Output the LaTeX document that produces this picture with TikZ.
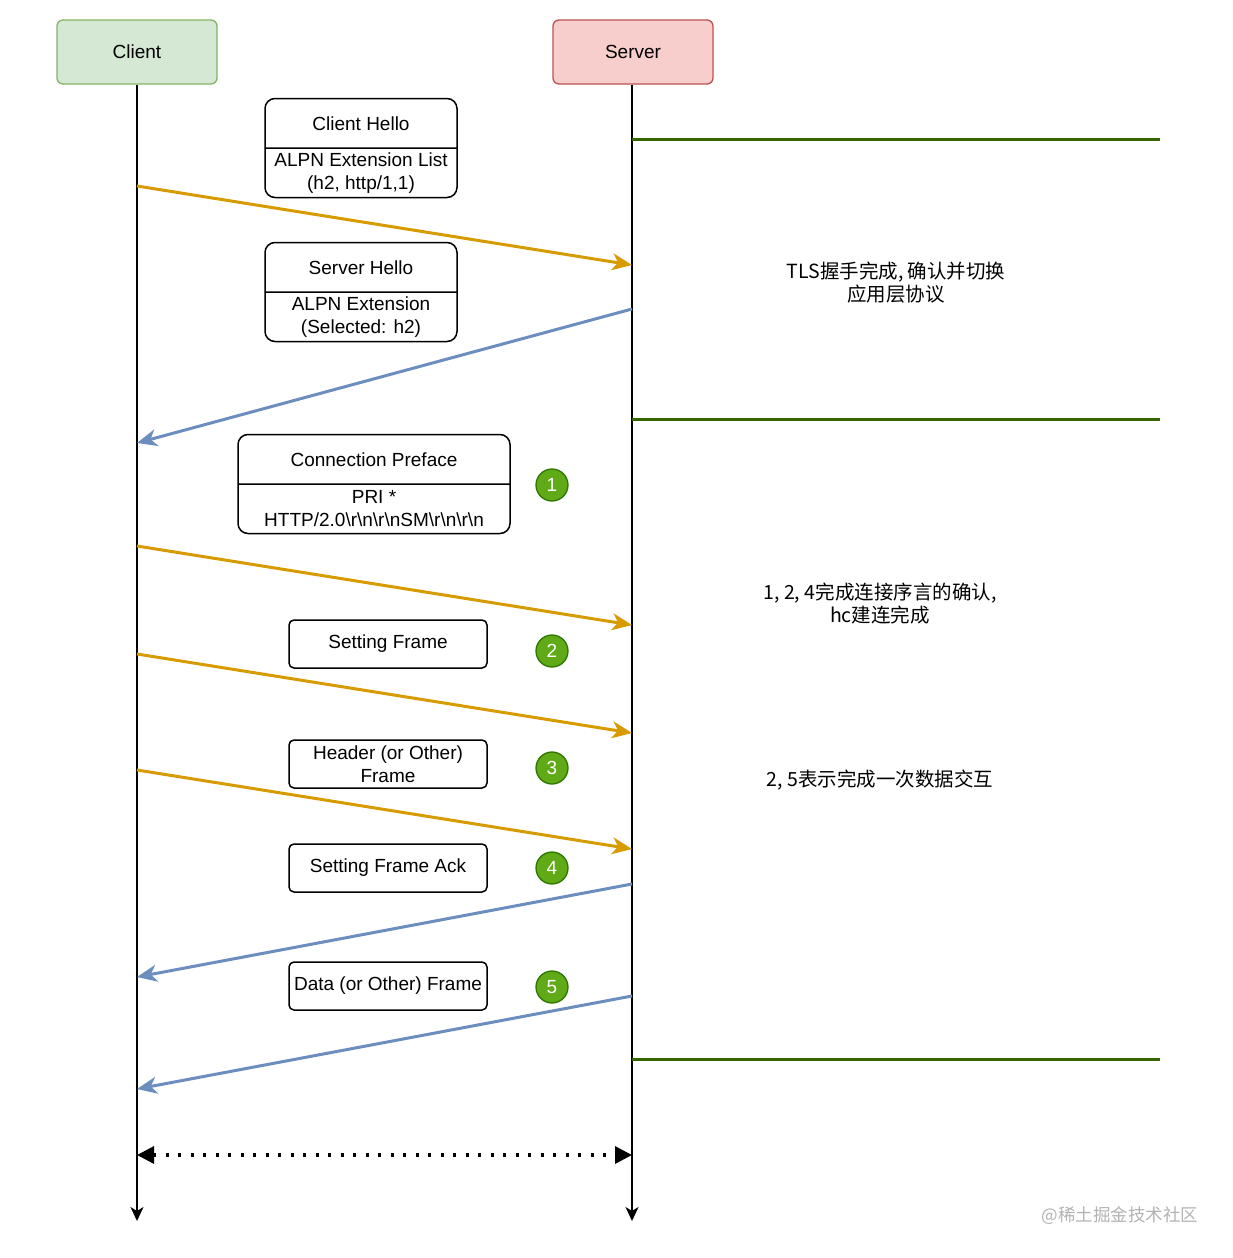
\documentclass[tikz,border=0pt]{standalone}
\usepackage{fontspec}
\setmainfont{Liberation Sans}
\newfontfamily\cjk{Noto Sans CJK SC}
\usetikzlibrary{arrows.meta,shapes.multipart,positioning}
\definecolor{clientfill}{HTML}{D5E8D4}
\definecolor{clientdraw}{HTML}{82B366}
\definecolor{serverfill}{HTML}{F8CECC}
\definecolor{serverdraw}{HTML}{B85450}
\definecolor{reqcol}{HTML}{D79B00}
\definecolor{respcol}{HTML}{6C8EBF}
\definecolor{phasecol}{HTML}{336600}
\definecolor{badgefill}{HTML}{60A917}
\definecolor{badgedraw}{HTML}{2D7600}
\newcommand{\cellbox}[2]{\parbox[c][44pt][c]{#1}{\centering #2}}

\begin{document}
\begin{tikzpicture}[x=1pt,y=-1pt,
        every node/.style={font=\fontsize{19}{23}\selectfont},
        actor/.style={rectangle, rounded corners=6pt, minimum width=160pt, minimum height=64pt, line width=1.3pt},
        msg/.style={rectangle split, rectangle split parts=2, draw, rounded corners=10pt, line width=1.5pt, inner xsep=4pt, inner ysep=2pt},
        frame/.style={draw, rounded corners=5pt, line width=1.5pt, minimum width=198pt, minimum height=48pt, align=center, inner sep=2pt},
        badge/.style={circle, fill=badgefill, draw=badgedraw, line width=1.3pt, minimum size=32pt, inner sep=0pt, text=white},
        req/.style={draw=reqcol, line width=3pt, -{Stealth[length=20pt,width=17pt,inset=6pt]}},
        resp/.style={draw=respcol, line width=3pt, -{Stealth[length=20pt,width=17pt,inset=6pt]}},
        life/.style={line width=1.6pt, -{Stealth[length=14pt,width=13pt,inset=4pt]}},
        phase/.style={draw=phasecol, line width=3pt},
        note/.style={font=\cjk\fontsize{19.5}{23}\selectfont, align=center}]

            \useasboundingbox (0,0) rectangle (1232,1258);

            \node[actor, fill=clientfill, draw=clientdraw] (client) at (137,52) {Client};
            \node[actor, fill=serverfill, draw=serverdraw] (server) at (633,52) {Server};
            \coordinate (clientEnd) at (137,1221);
            \coordinate (serverEnd) at (632,1221);
            \draw[life] (client.south) -- (clientEnd);
            \draw[life] (server.south -| serverEnd) -- (serverEnd);


            \node[msg] (chello) at (361,148) {\cellbox{184pt}{Client Hello}
                \nodepart{two}\cellbox{184pt}{ALPN Extension List\\(h2, http/1,1)}};
            \node[msg] (shello) at (361,292) {\cellbox{184pt}{Server Hello}
                \nodepart{two}\cellbox{184pt}{ALPN Extension\\(Selected: h2)}};
            \node[msg] (preface) at (374,484) {\cellbox{264pt}{Connection Preface}
                \nodepart{two}\cellbox{264pt}{PRI *\\HTTP/2.0\textbackslash r\textbackslash n\textbackslash r\textbackslash nSM\textbackslash r\textbackslash n\textbackslash r\textbackslash n}};

            \foreach \x/ \y/ \t in {setting/644/Setting Frame, header/764/{Header (or Other)\\Frame}, ack/868/Setting Frame Ack, data/986/Data (or Other) Frame}{
                \node[frame] (\x) at (388,\y) {\t};
            }

            \foreach \n/ \y in {1/485, 2/651, 3/768, 4/868, 5/987}{
                \node[badge] (b\n) at (552,\y) {\n};
            }


            \foreach \n/ \ys/ \yd in {1/186/265, 2/546/625, 3/654/733, 4/770/849}{
                \coordinate (rs\n) at (137,\ys);
                \coordinate (rd\n) at (632,\yd);
                \draw[req] (rs\n) -- (rd\n);
            }

            \foreach \n/ \ys/ \yd in {1/309/443, 2/884/977, 3/996/1089}{
                \coordinate (ps\n) at (632,\ys);
                \coordinate (pd\n) at (137,\yd);
                \draw[resp] (ps\n) -- (pd\n);
            }

            \coordinate (dotL) at (137,1155);
            \coordinate (dotR) at (632,1155);
            \draw[line width=3.2pt, dash pattern=on 3.2pt off 9.3pt, {Triangle[length=17pt,width=17pt]}-{Triangle[length=17pt,width=17pt]}] (dotL) -- (dotR);


            \foreach \n/ \y in {1/139, 2/419, 3/1059}{
                \coordinate (ph\n) at (632,\y);
                \coordinate (pe\n) at (1160,\y);
                \draw[phase] (ph\n) -- (pe\n);
            }

            \node[note] (tls) at (896,283) {TLS握手完成, 确认并切换\\应用层协议};
            \node[note] (preok) at (880,604) {1, 2, 4完成连接序言的确认,\\hc建连完成};
            \node[note] (xchg) at (880,780) {2, 5表示完成一次数据交互};

            \node[note, font=\cjk\fontsize{17.5}{21}\selectfont, text=black!30] (mark) at (1120,1216) {@稀土掘金技术社区};

    \end{tikzpicture}
\end{document}
